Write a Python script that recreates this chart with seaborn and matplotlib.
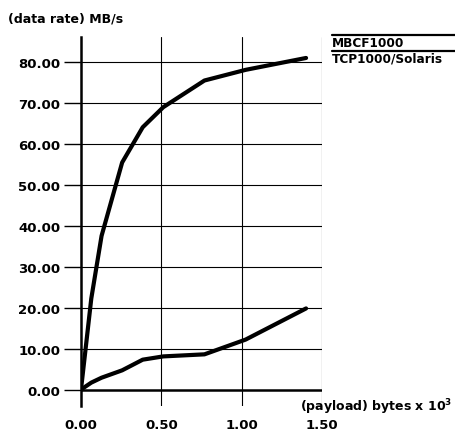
import matplotlib
matplotlib.use("Agg")
import matplotlib.pyplot as plt
import seaborn as sns
import pandas as pd
from matplotlib.lines import Line2D

# payload in bytes x 10^3, data rate in MB/s
payload = [0.0, 0.064, 0.128, 0.256, 0.384, 0.512, 0.768, 1.024, 1.4]
mbcf = [0.0, 22.2, 37.5, 55.4, 64.0, 68.9, 75.4, 78.0, 80.9]
tcp = [0.0, 1.7, 2.9, 4.7, 7.3, 8.1, 8.6, 12.2, 19.8]
series_names = ["MBCF1000", "TCP1000/Solaris"]
xticks = [0.0, 0.5, 1.0, 1.5]
yticks = [0, 10, 20, 30, 40, 50, 60, 70, 80]

df = pd.DataFrame({
    "payload": payload * 2,
    "rate": mbcf + tcp,
    "series": [series_names[0]] * len(payload) + [series_names[1]] * len(payload),
})

sns.set_style("white")
plt.rcParams["font.family"] = ["DejaVu Sans"]
plt.rcParams["font.weight"] = "bold"
plt.rcParams["mathtext.default"] = "bf"
for k in ["text.color", "xtick.color", "ytick.color", "axes.labelcolor"]:
    plt.rcParams[k] = "black"
plt.rcParams["ytick.left"] = True
plt.rcParams["ytick.major.size"] = 12
plt.rcParams["ytick.major.width"] = 1.0

fig = plt.figure(figsize=(4.55, 4.31), dpi=100)
ax = fig.add_axes([0.178, 0.0557, 0.53, 0.856])

sns.lineplot(data=df, x="payload", y="rate", hue="series", sort=False,
             palette=["black", "black"], linewidth=3.0, legend=False, ax=ax,
             zorder=5)

ax.set_xlim(0, 1.5)
ax.set_ylim(-4.0, 86.0)
ax.set_xticks(xticks)
ax.set_yticks(yticks)
ax.set_xticklabels([f"{v:.2f}" for v in xticks], fontsize=9.5, fontweight="bold")
ax.set_yticklabels([f"{v:.2f}" for v in yticks], fontsize=9.5, fontweight="bold")
ax.tick_params(axis="y", left=True, direction="out", length=12, width=1.0,
               pad=3, color="black")
ax.tick_params(axis="x", bottom=False, length=0, pad=9)
ax.set_xlabel("")
ax.set_ylabel("")

# grid
for y in yticks[1:]:
    ax.axhline(y, color="black", lw=0.8, zorder=1)
ax.axhline(0, color="black", lw=1.8, zorder=2)
for x in xticks[1:]:
    ax.axvline(x, color="black", lw=0.8, zorder=1)

for s in ["top", "right", "bottom"]:
    ax.spines[s].set_visible(False)
ax.spines["left"].set_linewidth(1.8)
ax.spines["left"].set_color("black")

# axis titles
fig.text(8 / 455, 1 - 19 / 431, "(data rate) MB/s", fontsize=9, fontweight="bold",
         va="center", ha="left")
fig.text(300 / 455, 1 - 411.5 / 431, r"(payload) bytes x 10$^{3}$", fontsize=9,
         fontweight="bold", va="baseline", ha="left")

# legend: line above each label
for ly, ty, name in [(35.7, 37.0, series_names[0]), (51.7, 53.0, series_names[1])]:
    fig.add_artist(Line2D([331.5 / 455, 1.0], [1 - ly / 431, 1 - ly / 431],
                          color="black", lw=1.6))
    fig.text(331.5 / 455, 1 - ty / 431, name, fontsize=8.7, fontweight="bold",
             va="top", ha="left")

fig.savefig("out.png", dpi=100)
